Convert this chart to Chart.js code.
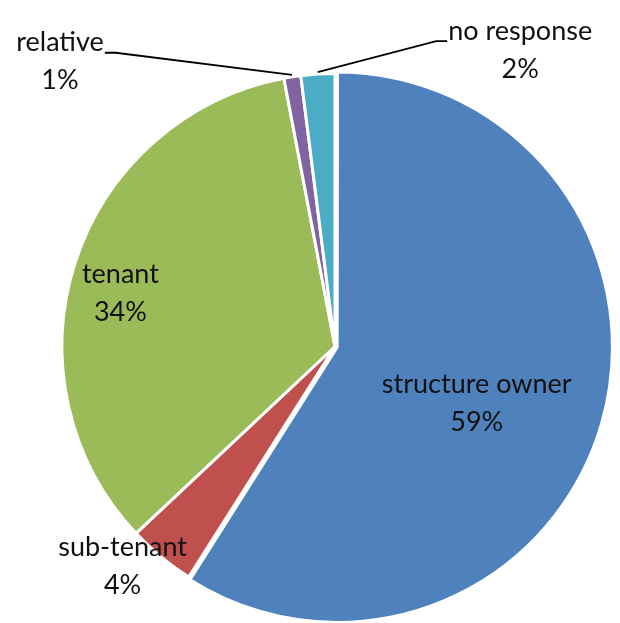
<!DOCTYPE html>
<html>
<head>
<meta charset="utf-8">
<script src="https://cdn.jsdelivr.net/npm/chart.js@4.4.1/dist/chart.umd.min.js"></script>
<style>
  html, body { margin: 0; padding: 0; background: #fff; }
  #wrap { width: 620px; height: 623px; }
</style>
</head>
<body>
<div id="wrap"><canvas id="pie" width="620" height="623"></canvas></div>
<script>
const categories = ['structure owner', 'sub-tenant', 'tenant', 'relative', 'no response'];
const shares = [59, 4, 34, 1, 2];
const colours = ['#4F81BD', '#C0504D', '#9BBB59', '#8064A2', '#4BACC6'];

// where each label sits: angle (deg, clockwise from top) and distance as a fraction of the radius
const labelPlace = [
  { deg: 112, f: 0.56, leader: null },
  { deg: 224, f: 1.12, leader: null },
  { deg: 284, f: 0.81, leader: null },
  { deg: 316, f: 1.45, leader: 'right' },
  { deg: 32, f: 1.28, leader: 'left' }
];

const sliceLabels = {
  id: 'sliceLabels',
  afterDatasetsDraw(chart) {
    const ctx = chart.ctx;
    const arcs = chart.getDatasetMeta(0).data;
    const total = shares.reduce((a, b) => a + b, 0);
    ctx.save();
    ctx.font = '27px Lato, "Open Sans", sans-serif';
    ctx.fillStyle = '#111';
    ctx.textAlign = 'center';
    ctx.textBaseline = 'middle';
    arcs.forEach((arc, i) => {
      const { x, y, startAngle, endAngle, outerRadius } = arc.getProps(['x', 'y', 'startAngle', 'endAngle', 'outerRadius'], true);
      const p = labelPlace[i];
      const a = p.deg * Math.PI / 180 - Math.PI / 2;
      const lx = x + Math.cos(a) * outerRadius * p.f;
      const ly = y + Math.sin(a) * outerRadius * p.f;
      const name = categories[i];
      const pct = Math.round(shares[i] / total * 100) + '%';
      ctx.fillText(name, lx, ly - 19);
      ctx.fillText(pct, lx, ly + 19);
      if (p.leader) {
        const mid = (startAngle + endAngle) / 2;
        const ex = x + Math.cos(mid) * (outerRadius + 2);
        const ey = y + Math.sin(mid) * (outerRadius + 2);
        const w = ctx.measureText(name).width;
        const by = ly - 19 + 10;
        const sx = p.leader === 'right' ? lx + w / 2 + 1 : lx - w / 2 - 1;
        const kx = p.leader === 'right' ? sx + 11 : sx - 11;
        ctx.beginPath();
        ctx.strokeStyle = '#000';
        ctx.lineWidth = 1.8;
        ctx.moveTo(sx, by);
        ctx.lineTo(kx, by);
        ctx.lineTo(ex, ey);
        ctx.stroke();
      }
    });
    ctx.restore();
  }
};

new Chart(document.getElementById('pie'), {
  type: 'pie',
  data: {
    labels: categories,
    datasets: [{
      data: shares,
      backgroundColor: colours,
      borderColor: '#fff',
      borderWidth: 3,
      offset: [9, 0, 0, 0, 0],
      radius: 273
    }]
  },
  options: {
    responsive: false,
    animation: false,
    layout: { padding: { left: 50, right: 0, top: 70, bottom: 0 } },
    plugins: {
      legend: { display: false },
      tooltip: { enabled: false }
    }
  },
  plugins: [sliceLabels]
});
</script>
</body>
</html>
